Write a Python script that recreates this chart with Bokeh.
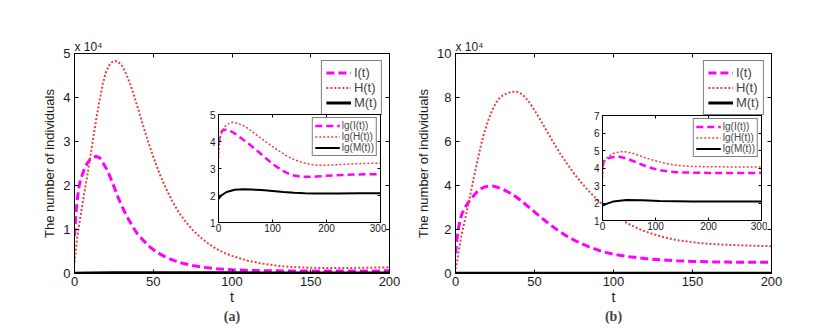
from bokeh.plotting import figure
from bokeh.models import (Range1d, LinearAxis, CustomJSTickFormatter,
                          FixedTicker, Legend, LegendItem)
from bokeh.embed import file_html
from bokeh.resources import INLINE

FONT = "Liberation Sans"
MAG = "#ff00ff"
RED = "#e8403f"
BLK = "#000000"

# ---------------- data (main plots, values in units of 10^4) ----------------
# panel (a)
tI_a = [0, 1, 2, 3, 4, 6, 8, 10, 12, 14, 16, 18, 20, 22, 25, 28, 31, 34, 37, 40,
        44, 48, 52, 57, 62, 68, 75, 82, 90, 100, 110, 120, 135, 150, 170, 200]
I_a = [0.85, 1.4, 1.75, 2.0, 2.15, 2.35, 2.5, 2.6, 2.65, 2.66, 2.63, 2.52, 2.4, 2.25,
       1.98, 1.7, 1.46, 1.25, 1.06, 0.9, 0.74, 0.6, 0.49, 0.39, 0.31, 0.24, 0.18,
       0.14, 0.11, 0.085, 0.07, 0.062, 0.058, 0.057, 0.058, 0.06]
tH_a = [0, 1, 2, 3, 4, 6, 8, 10, 12, 14, 16, 18, 20, 22, 24, 26, 28, 30, 32, 34, 36,
        38, 40, 43, 46, 50, 54, 58, 62, 66, 70, 75, 80, 85, 90, 95, 100, 110, 120,
        130, 140, 150, 160, 170, 185, 200]
H_a = [0.25, 0.6, 0.88, 1.12, 1.35, 1.78, 2.2, 2.65, 3.1, 3.55, 3.95, 4.32, 4.58,
       4.73, 4.81, 4.83, 4.8, 4.73, 4.6, 4.43, 4.24, 4.02, 3.79, 3.43, 3.08, 2.65,
       2.27, 1.94, 1.65, 1.4, 1.2, 0.99, 0.82, 0.68, 0.56, 0.47, 0.4, 0.29, 0.22,
       0.17, 0.145, 0.13, 0.125, 0.125, 0.13, 0.14]
tM_a = [0, 10, 25, 50, 100, 150, 200]
M_a = [0.008, 0.013, 0.016, 0.017, 0.015, 0.012, 0.012]

# panel (b)
tI_b = [0, 1, 2, 3, 4, 6, 8, 10, 12, 14, 16, 18, 20, 22, 24, 26, 28, 31, 34, 38, 42,
        46, 50, 55, 60, 65, 70, 75, 80, 85, 90, 95, 100, 110, 120, 130, 140, 150,
        160, 175, 200]
I_b = [0.9, 1.6, 2.1, 2.45, 2.7, 3.0, 3.22, 3.4, 3.58, 3.74, 3.85, 3.92, 3.96, 3.98,
       3.97, 3.93, 3.88, 3.79, 3.68, 3.5, 3.28, 3.04, 2.8, 2.5, 2.21, 1.95, 1.72,
       1.52, 1.35, 1.2, 1.07, 0.96, 0.88, 0.76, 0.68, 0.62, 0.58, 0.55, 0.53, 0.515,
       0.51]
tH_b = [0, 1, 2, 3, 4, 6, 8, 10, 12, 14, 16, 18, 20, 22, 24, 26, 28, 30, 33, 36, 38,
        40, 42, 44, 47, 50, 54, 58, 62, 66, 70, 75, 80, 85, 90, 95, 100, 105, 110,
        115, 120, 130, 140, 150, 160, 170, 185, 200]
H_b = [0.2, 0.55, 1.0, 1.42, 1.8, 2.45, 3.1, 3.8, 4.5, 5.15, 5.8, 6.35, 6.8, 7.2,
       7.55, 7.8, 7.98, 8.1, 8.2, 8.26, 8.27, 8.24, 8.15, 8.02, 7.75, 7.42, 6.95,
       6.45, 5.95, 5.48, 5.05, 4.55, 4.1, 3.7, 3.33, 3.0, 2.7, 2.45, 2.24, 2.06,
       1.91, 1.68, 1.52, 1.42, 1.35, 1.31, 1.27, 1.24]
tM_b = [0, 10, 25, 50, 100, 150, 200]
M_b = [0.007, 0.012, 0.015, 0.015, 0.014, 0.013, 0.012]

# ---------------- data (insets, lg of values) ----------------
tlI_a = [0, 2, 4, 8, 13, 20, 30, 45, 60, 75, 90, 105, 120, 135, 150, 165, 180, 200,
         230, 260, 300]
lgI_a = [3.93, 4.2, 4.32, 4.42, 4.44, 4.41, 4.3, 4.08, 3.85, 3.6, 3.34, 3.1, 2.9,
         2.76, 2.7, 2.69, 2.7, 2.73, 2.76, 2.78, 2.79]
tlH_a = [0, 2, 4, 8, 15, 25, 35, 50, 65, 80, 95, 110, 125, 140, 155, 170, 185, 200,
         230, 260, 300]
lgH_a = [3.4, 3.95, 4.2, 4.45, 4.63, 4.71, 4.68, 4.55, 4.33, 4.1, 3.88, 3.68, 3.48,
         3.33, 3.22, 3.15, 3.12, 3.12, 3.15, 3.18, 3.2]
tlM_a = [0, 5, 15, 30, 45, 60, 80, 100, 120, 140, 160, 180, 220, 260, 300]
lgM_a = [1.88, 2.0, 2.13, 2.21, 2.23, 2.22, 2.2, 2.17, 2.13, 2.1, 2.08, 2.07, 2.07,
         2.08, 2.08]

tlI_b = [0, 2, 5, 10, 16, 24, 32, 45, 60, 76, 92, 108, 125, 140, 170, 200, 250, 300]
lgI_b = [4.05, 4.35, 4.48, 4.56, 4.6, 4.63, 4.64, 4.55, 4.37, 4.17, 4.0, 3.87, 3.8,
         3.76, 3.73, 3.72, 3.72, 3.72]
tlH_b = [0, 2, 5, 10, 20, 32, 42, 55, 76, 92, 107, 125, 139, 155, 170, 200, 250, 300]
lgH_b = [3.45, 4.2, 4.45, 4.64, 4.83, 4.92, 4.93, 4.86, 4.64, 4.48, 4.35, 4.23, 4.16,
         4.12, 4.09, 4.07, 4.06, 4.06]
tlM_b = [0, 10, 20, 45, 76, 107, 140, 170, 220, 300]
lgM_b = [1.85, 1.98, 2.08, 2.17, 2.16, 2.12, 2.1, 2.08, 2.08, 2.08]

# tick values
xt_main = [0, 50, 100, 150, 200]
yt_a = [0, 1, 2, 3, 4, 5]
yt_b = [0, 2, 4, 6, 8, 10]
xt_in = [0, 100, 200, 300]
yt_in_a = [1, 2, 3, 4, 5]
yt_in_b = [1, 2, 3, 4, 5, 6, 7]


def style_axis(ax, ticks, size, tin, show_labels=True):
    ax.ticker = FixedTicker(ticks=ticks)
    ax.minor_tick_line_color = None
    ax.major_tick_in = tin
    ax.major_tick_out = 0
    ax.axis_line_color = BLK
    ax.major_tick_line_color = BLK
    ax.major_label_text_font = FONT
    ax.major_label_text_font_size = size
    ax.major_label_text_color = "#1a1a1a"
    ax.axis_label_text_font = FONT
    ax.axis_label_text_font_style = "normal"
    ax.axis_label_text_color = "#1a1a1a"
    if not show_labels:
        ax.formatter = CustomJSTickFormatter(code="return ''")
        ax.major_label_standoff = 0


def make_main(left, top, fw, yend, yticks, series, tag, names):
    p = figure(frame_width=fw, frame_height=220, x_range=Range1d(0, 200),
               y_range=Range1d(0, yend), output_backend="svg", toolbar_location=None,
               min_border_left=74, min_border_top=53, min_border_right=12,
               min_border_bottom=10, background_fill_color="white",
               border_fill_color=None, outline_line_color=BLK,
               title="x 10\u2074")
    p.title.align = "left"
    p.title.text_font = FONT
    p.title.text_font_size = "12px"
    p.title.text_font_style = "normal"
    p.title.text_color = "#1a1a1a"
    p.title.offset = 0
    p.title.standoff = 0
    p.grid.visible = False
    style_axis(p.xaxis[0], xt_main, "13px", 4)
    style_axis(p.yaxis[0], yticks, "13px", 4)
    p.xaxis[0].axis_label = "t"
    p.xaxis[0].axis_label_text_font_size = "14px"
    p.xaxis[0].major_label_standoff = 3
    p.xaxis[0].axis_label_standoff = 0
    p.yaxis[0].axis_label = "The number of individuals"
    p.yaxis[0].axis_label_text_font_size = "13px"
    p.yaxis[0].major_label_standoff = 4
    p.yaxis[0].axis_label_standoff = 3
    ra = LinearAxis()
    style_axis(ra, yticks, "13px", 4, False)
    p.add_layout(ra, "right")
    ta = LinearAxis()
    style_axis(ta, xt_main, "13px", 4, False)
    p.add_layout(ta, "above")
    cap = LinearAxis(axis_label=tag, ticker=FixedTicker(ticks=[]),
                     formatter=CustomJSTickFormatter(code="return ''"),
                     axis_line_color=None, major_tick_line_color=None,
                     minor_tick_line_color=None, axis_label_standoff=1,
                     axis_label_text_font="Liberation Serif",
                     axis_label_text_font_style="bold",
                     axis_label_text_font_size="14px")
    p.add_layout(cap, "below")

    (tI, I), (tH, H), (tM, M) = series
    r1 = p.line(tI, I, line_color=MAG, line_width=3, line_dash="8 4")
    r2 = p.line(tH, H, line_color=RED, line_width=2, line_dash="2 2")
    r3 = p.line(tM, M, line_color=BLK, line_width=3)
    leg = Legend(items=[LegendItem(label=names[0], renderers=[r1]),
                        LegendItem(label=names[1], renderers=[r2]),
                        LegendItem(label=names[2], renderers=[r3])],
                 location="top_right", margin=7, padding=4, spacing=0,
                 label_height=15, glyph_height=15, glyph_width=25,
                 label_standoff=3, label_text_font=FONT,
                 label_text_font_size="13px", border_line_color=BLK,
                 border_line_width=1, background_fill_alpha=1.0)
    p.add_layout(leg, "center")
    p.styles = {"position": "absolute", "left": f"{left}px", "top": f"{top}px",
                "z-index": "1"}
    return p


def make_inset(left, top, fw, fh, y0, y1, yticks, series):
    p = figure(frame_width=fw, frame_height=fh, x_range=Range1d(0, 300),
               y_range=Range1d(y0, y1), output_backend="svg", toolbar_location=None,
               min_border_left=22, min_border_top=4, min_border_right=6,
               min_border_bottom=14, background_fill_color="white",
               border_fill_color=None, outline_line_color=BLK)
    p.grid.visible = False
    style_axis(p.xaxis[0], xt_in, "10px", 3)
    style_axis(p.yaxis[0], yticks, "10px", 3)
    p.xaxis[0].major_label_standoff = 1
    p.yaxis[0].major_label_standoff = 3
    ra = LinearAxis()
    style_axis(ra, yticks, "10px", 3, False)
    p.add_layout(ra, "right")
    ta = LinearAxis()
    style_axis(ta, xt_in, "10px", 3, False)
    p.add_layout(ta, "above")
    (tI, I), (tH, H), (tM, M) = series
    r1 = p.line(tI, I, line_color=MAG, line_width=2.5, line_dash="7 4")
    r2 = p.line(tH, H, line_color=RED, line_width=1.5, line_dash="2 2")
    r3 = p.line(tM, M, line_color=BLK, line_width=2)
    leg = Legend(items=[LegendItem(label="lg(I(t))", renderers=[r1]),
                        LegendItem(label="lg(H(t))", renderers=[r2]),
                        LegendItem(label="lg(M(t))", renderers=[r3])],
                 location="top_right", margin=3, padding=2, spacing=0,
                 label_height=11, glyph_height=11, glyph_width=25,
                 label_standoff=2, label_text_font=FONT,
                 label_text_font_size="10px", border_line_color=BLK,
                 border_line_width=1, background_fill_alpha=1.0)
    p.add_layout(leg, "center")
    p.styles = {"position": "absolute", "left": f"{left}px", "top": f"{top}px",
                "z-index": "2"}
    return p


pa = make_main(0, 0, 315, 5, yt_a, [(tI_a, I_a), (tH_a, H_a), (tM_a, M_a)], "(a)",
               ["I(t)", "H(t)", "M(t)"])
pb = make_main(381, 0, 316, 10, yt_b, [(tI_b, I_b), (tH_b, H_b), (tM_b, M_b)], "(b)",
               ["I(t)", "H(t)", "M(t)"])
ia = make_inset(196, 110, 162, 108, 1, 5, yt_in_a,
                [(tlI_a, lgI_a), (tlH_a, lgH_a), (tlM_a, lgM_a)])
ib = make_inset(580, 111, 159, 105, 1, 7, yt_in_b,
                [(tlI_b, lgI_b), (tlH_b, lgH_b), (tlM_b, lgM_b)])

open("out.html", "w").write(file_html([pa, pb, ia, ib], INLINE, title="chart"))
